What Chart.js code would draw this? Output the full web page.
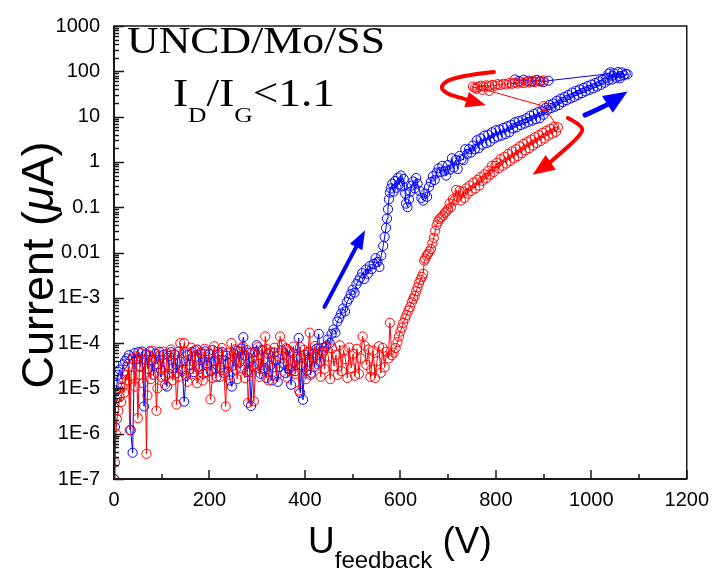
<!DOCTYPE html>
<html>
<head>
<meta charset="utf-8">
<script src="https://cdn.jsdelivr.net/npm/chart.js@4.4.1/dist/chart.umd.min.js"></script>
<style>
  html, body { margin: 0; padding: 0; background: #fff; }
  #wrap { width: 718px; height: 576px; }
</style>
</head>
<body>
<div id="wrap"><canvas id="c" width="718" height="576"></canvas></div>
<script>
// Axis ticks
const xTicks = [0, 200, 400, 600, 800, 1000, 1200];
const xMinorTicks = [100, 300, 500, 700, 900, 1100];
const yTicks = [1e-7, 1e-6, 1e-5, 1e-4, 1e-3, 0.01, 0.1, 1, 10, 100, 1000];
const yTickLabels = ['1E-7', '1E-6', '1E-5', '1E-4', '1E-3', '0.01', '0.1', '1', '10', '100', '1000'];

// Forward sweep (blue): feedback voltage (V) and emission current (uA)
const blueU = [
  0,2,4,6,9,12,15,19,23,27,
  31,35,39,43,47,51,55,59,63,67,
  71,75,79,83,87,91,95,99,103,107,
  111,115,119,123,127,131,135,139,143,147,
  151,155,159,163,167,171,175,179,183,187,
  191,195,199,203,207,211,215,219,223,227,
  231,235,239,243,247,251,255,259,263,267,
  271,275,279,283,287,291,295,299,303,307,
  311,315,319,323,327,331,335,339,343,347,
  351,355,359,363,367,371,375,379,383,387,
  390,393,396,400,404,408,412,416,420,424,
  429,432,436,440,
  444,448,452,456,460,464,468,472,476,480,
  484,488,492,496,500,504,508,512,516,520,
  524,528,532,536,540,544,548,552,556,560,
  564,567,570,572,574,576,578,580,583,586,
  589,592,595,598,601,604,607,610,612,615,
  618,621,624,627,630,633,636,640,644,648,
  652,656,660,664,668,672,676,680,684,688,
  692,696,700,704,708,712,716,720,724,728,
  732,736,740,744,748,752,756,760,764,768,
  772,776,780,784,788,792,796,800,804,808,
  812,816,820,824,828,832,836,840,844,848,
  852,856,860,864,868,872,876,880,884,888,
  892,896,900,904,908,912,916,920,924,928,
  932,936,940,944,948,952,956,960,964,968,
  972,976,980,984,988,992,996,1000,1004,1008,
  1012,1016,1020,1024,1028,1032,1036,1040,1044,1048,
  1052,1056,1060,1064,1068,1072,1076,1060,1044,1036,
  910,900,892,884,876,868,858,848,840
];
const blueI = [
  1e-7,1.4e-6,9e-6,1.2e-5,2.0e-5,2.6e-5,1.6e-5,3.4e-5,4.0e-5,4.6e-5,
  5.4e-5,1.2e-6,3.8e-7,6.0e-5,4.4e-5,6.3e-5,3.0e-5,6.5e-5,4.0e-6,5.6e-5,
  2.7e-5,6.6e-5,4.2e-5,2.0e-5,5.9e-5,3.4e-5,6.4e-5,2.5e-5,5.5e-5,1.9e-5,
  1.1e-5,5.2e-5,6.3e-5,2.8e-5,5.6e-5,2.2e-5,6.5e-5,3.9e-5,2.6e-5,5.1e-6,
  1.9e-5,5.5e-5,3.3e-5,6.4e-5,2.3e-5,5.0e-5,7.2e-5,2.7e-5,5.8e-5,2.1e-5,
  6.6e-5,3.2e-5,5.7e-5,2.4e-5,7.0e-5,4.0e-5,1.8e-5,5.6e-5,2.9e-5,6.3e-5,
  2.2e-5,5.3e-5,3.6e-5,1.5e-5,1.1e-5,5.9e-5,2.6e-5,6.8e-5,3.8e-5,7.6e-5,
  1.35e-4,5.3e-5,2.3e-5,6.1e-5,4.1e-6,3.1e-5,6.4e-5,9.0e-5,3.5e-5,2.1e-5,
  7.1e-5,2.8e-5,1.7e-5,5.8e-5,3.2e-5,1.5e-5,6.2e-5,4.1e-5,1.4e-5,3.0e-5,
  6.9e-5,3.5e-5,2.2e-5,7.3e-5,2.7e-5,1.2e-5,6.0e-5,2.4e-5,5.0e-5,1.3e-4,
  8.0e-6,3.2e-5,5.6e-6,5.5e-5,2.5e-5,6.5e-5,2.0e-5,5.9e-5,3.0e-5,7.5e-5,
  1.6e-4,3.8e-5,6.8e-5,8.0e-5,
  8.5e-5,1.2e-4,1.0e-4,1.6e-4,2.0e-4,1.7e-4,3.0e-4,3.6e-4,4.5e-4,5.8e-4,
  5.0e-4,8.0e-4,9.5e-4,1.2e-3,1.5e-3,1.3e-3,2.0e-3,2.4e-3,2.8e-3,3.5e-3,
  2.6e-3,4.2e-3,3.4e-3,5.0e-3,4.3e-3,5.6e-3,7.5e-3,6.2e-3,4.8e-3,8.5e-3,
  0.014,0.022,0.035,0.056,0.09,0.15,0.21,0.26,0.33,0.22,
  0.38,0.27,0.45,0.32,0.5,0.29,0.42,0.2,0.12,0.1,
  0.15,0.22,0.3,0.37,0.26,0.44,0.33,0.23,0.16,0.14,
  0.2,0.17,0.28,0.36,0.48,0.4,0.58,0.72,0.6,0.82,
  0.62,0.5,0.85,0.68,1.2,0.75,1.1,0.7,1.35,1.15,
  1.1,1.9,1.5,1.9,1.6,2.3,1.9,3.0,2.0,3.3,
  2.4,3.8,2.6,4.0,2.8,4.5,3.3,5.0,3.6,5.2,
  3.8,5.6,4.1,6.1,4.5,6.6,5.5,7.5,5.8,8.0,
  6.5,8.3,7.0,9.2,7.6,10.5,8.2,11.5,8.8,12.5,
  9.2,13.0,11.0,15.5,14.0,18.0,15.5,19.5,16.5,22.5,
  18,25,21,27,23,30,25,34,27,37,
  30,40,33,43,36,47,39,51,42,55,
  46,60,50,65,56,72,64,95,66,90,
  72,96,78,94,82,88,86,70,80,88,
  62,58,60,64,59,62,65,61,66
];

// Reverse sweep (red)
const redU = [
  900,894,888,882,876,870,864,858,852,846,
  840,834,828,822,816,810,804,798,792,786,
  780,774,768,762,756,752,760,772,786,900,
  930,926,922,918,914,910,906,902,898,894,
  890,886,882,878,874,870,866,862,858,854,
  850,846,842,838,834,830,826,822,818,814,
  810,806,802,799,796,792,788,784,780,776,
  772,768,765,761,757,753,749,745,741,738,
  734,731,727,724,720,717,713,710,706,703,
  700,696,693,690,686,682,679,676,673,670,
  667,664,661,658,655,652,650,648,645,642,
  639,636,633,630,627,624,620,617,613,610,
  606,603,600,597,594,590,586,582,578,575,
  571,567,563,559,555,551,547,543,539,537,
  533,529,525,521,517,513,509,505,501,497,
  493,489,485,481,477,473,469,465,461,457,
  453,449,445,441,437,433,429,425,421,417,
  413,410,406,402,398,394,390,388,384,380,
  376,372,368,364,360,356,352,348,344,340,
  336,332,328,324,320,317,313,309,305,301,
  297,293,289,285,281,278,274,270,266,262,
  258,254,250,246,242,238,234,230,226,222,
  218,214,210,206,202,198,194,190,186,182,
  178,174,170,166,162,158,154,150,147,143,
  139,135,131,127,123,119,115,111,107,103,
  99,95,91,89,85,81,77,73,70,68,
  65,61,57,53,50,47,44,40,36,33,
  30,27,24,21,18,15,12,9,6,4,
  2,0
];
const redI = [
  63,60,64,58,61,57,59,55,58,54,
  56,53,55,51,53,50,52,48,50,47,
  49,46,48,45,43,46,41,39,37,17,
  5.8,4.6,6.0,4.2,5.4,3.8,4.9,3.3,4.4,2.9,
  3.9,2.6,3.5,2.3,3.1,2.0,2.8,1.8,2.5,1.55,
  2.2,1.35,1.9,1.2,1.7,1.05,1.5,0.92,1.3,0.82,
  1.15,0.72,0.95,0.82,0.6,0.82,0.52,0.64,0.44,0.53,
  0.38,0.46,0.3,0.4,0.26,0.35,0.23,0.3,0.2,0.26,
  0.16,0.22,0.14,0.23,0.17,0.24,0.14,0.15,0.1,0.12,
  0.09,0.08,0.074,0.066,0.06,0.055,0.048,0.04,0.03,0.021,
  0.016,0.012,0.0105,0.0093,0.0085,0.0073,0.0066,0.0034,0.0029,0.0025,
  0.0021,0.0017,0.0014,0.0011,0.00095,0.0008,0.00062,0.00052,0.00042,0.00035,
  0.00028,0.00022,0.00018,0.00014,0.000105,7.8e-5,6.2e-5,5.4e-5,2.8e-4,4.6e-5,
  6.5e-5,2.9e-5,7.8e-5,2.2e-5,8.5e-5,4.0e-5,1.7e-5,6.8e-5,2.6e-5,1.8e-5,
  7.2e-5,3.3e-5,8.8e-5,1.4e-4,4.6e-5,2.1e-5,7.5e-5,1.9e-5,5.8e-5,2.8e-5,
  8.0e-5,1.7e-5,4.4e-5,6.9e-5,2.4e-5,9.0e-5,2.0e-5,5.5e-5,3.1e-5,7.6e-5,
  1.6e-5,5.0e-5,8.3e-5,2.7e-5,6.2e-5,1.8e-5,7.9e-5,3.5e-5,8.6e-5,4.8e-5,
  2.2e-5,1.7e-4,6.0e-5,1.6e-5,7.1e-5,3.0e-5,8.2e-5,9.0e-6,4.5e-5,2.1e-5,
  8.4e-5,2.5e-5,6.6e-5,1.7e-5,7.7e-5,3.6e-5,9.2e-5,1.4e-4,5.2e-5,1.9e-5,
  7.9e-5,2.9e-5,6.3e-5,1.5e-5,7.4e-5,1.4e-4,2.6e-5,6.9e-5,1.8e-5,8.1e-5,
  3.4e-5,5.2e-6,6.1e-5,2.3e-5,4.8e-6,7.0e-5,1.7e-5,8.4e-5,2.8e-5,6.5e-5,
  1.6e-5,7.3e-5,3.2e-5,1.0e-4,2.0e-5,6.0e-5,4.0e-6,2.5e-5,7.8e-5,1.8e-5,
  6.4e-5,2.7e-5,8.5e-5,1.7e-5,5.7e-6,5.9e-5,2.3e-5,7.5e-5,1.5e-5,6.2e-5,
  3.0e-5,1.3e-5,7.0e-5,2.1e-5,7.9e-5,2.6e-5,1.4e-5,6.4e-5,1.0e-4,2.4e-5,
  1.0e-4,1.8e-5,4.4e-6,5.6e-5,1.5e-5,7.2e-5,2.1e-5,5.8e-5,1.2e-5,6.5e-5,
  1.8e-5,5.2e-5,1.0e-5,3.2e-6,4.4e-5,6.8e-5,1.6e-5,5.4e-5,7.0e-6,3.6e-7,
  4.3e-5,1.3e-5,6.0e-5,2.0e-5,2.2e-6,5.1e-5,1.1e-5,4.6e-5,1.9e-5,1.2e-6,
  3.0e-5,1.5e-5,2.0e-5,8.0e-6,1.1e-5,5.0e-6,6.5e-6,3.2e-6,2.1e-6,1.0e-6,
  2.3e-7,1e-7
];

// Sweep-direction arrows, given as paths in data units (V, uA)
const blueArrows = [
  { width: 4, head: [19, 7], path: [[441, 6.3e-4], [526, 0.031]] },
  { width: 5, head: [24, 10], path: [[987, 10.8], [1028, 17], [1076, 36]] }
];
const redArrows = [
  { width: 4, head: [22, 9], path: [[951, 9.3], [982, 6.3], [980, 4.0], [910, 0.9], [877, 0.52]] },
  { width: 4, head: [20, 8], path: [[796, 97], [717, 79], [682, 48], [696, 32], [732, 25], [779, 17.8]] }
];

const SANS = 'Liberation Sans, Arial, sans-serif';
const SERIF = 'Liberation Serif, Times New Roman, serif';

function toPoints(us, is) {
  return us.map((u, k) => ({ x: u, y: is[k] }));
}

function drawRuns(ctx, runs, x0, baseline, targetWidth) {
  let total = 0;
  runs.forEach(r => { ctx.font = r.font; r.w = ctx.measureText(r.text).width; total += r.w; });
  const sx = targetWidth ? targetWidth / total : 1;
  ctx.save();
  ctx.translate(x0, baseline);
  ctx.scale(sx, 1);
  let x = 0;
  runs.forEach(r => { ctx.font = r.font; ctx.fillText(r.text, x, r.dy || 0); x += r.w; });
  ctx.restore();
  return total * sx;
}

function drawArrow(ctx, xs, ys, arrow, color) {
  const pts = arrow.path.map(p => [xs.getPixelForValue(p[0]), ys.getPixelForValue(p[1])]);
  const n = pts.length;
  const tip = pts[n - 1], prev = pts[n - 2];
  const dx = tip[0] - prev[0], dy = tip[1] - prev[1];
  const len = Math.hypot(dx, dy);
  const ux = dx / len, uy = dy / len;
  const headLen = arrow.head[0], headHalf = arrow.head[1];
  const end = [tip[0] - ux * headLen * 0.8, tip[1] - uy * headLen * 0.8];
  ctx.strokeStyle = color;
  ctx.fillStyle = color;
  ctx.lineWidth = arrow.width;
  ctx.lineCap = 'round';
  ctx.lineJoin = 'round';
  ctx.beginPath();
  ctx.moveTo(pts[0][0], pts[0][1]);
  if (n === 2) {
    ctx.lineTo(end[0], end[1]);
  } else {
    for (let k = 1; k < n - 1; k++) {
      const nx = k === n - 2 ? end : pts[k + 1];
      ctx.quadraticCurveTo(pts[k][0], pts[k][1], (pts[k][0] + nx[0]) / 2, (pts[k][1] + nx[1]) / 2);
    }
    ctx.lineTo(end[0], end[1]);
  }
  ctx.stroke();
  const bx = tip[0] - ux * headLen, by = tip[1] - uy * headLen;
  ctx.beginPath();
  ctx.moveTo(tip[0], tip[1]);
  ctx.lineTo(bx - uy * headHalf, by + ux * headHalf);
  ctx.lineTo(bx + uy * headHalf, by - ux * headHalf);
  ctx.closePath();
  ctx.fill();
}

const decorations = {
  id: 'decorations',
  afterDatasetsDraw(chart) {
    const { ctx, chartArea: a, scales: { x, y } } = chart;
    ctx.save();

    // frame
    ctx.strokeStyle = '#1a1a1a';
    ctx.lineWidth = 1.5;
    ctx.strokeRect(a.left, a.top, a.right - a.left, a.bottom - a.top);
    ctx.lineWidth = 2;
    ctx.beginPath();
    ctx.moveTo(a.left, a.top);
    ctx.lineTo(a.left, a.bottom);
    ctx.lineTo(a.right, a.bottom);
    ctx.stroke();

    // inward tick marks
    ctx.lineWidth = 1.5;
    ctx.beginPath();
    xTicks.forEach(v => { const p = Math.round(x.getPixelForValue(v)); ctx.moveTo(p, a.bottom); ctx.lineTo(p, a.bottom - 9); });
    xMinorTicks.forEach(v => { const p = Math.round(x.getPixelForValue(v)); ctx.moveTo(p, a.bottom); ctx.lineTo(p, a.bottom - 5); });
    yTicks.forEach((v, k) => {
      const p = Math.round(y.getPixelForValue(v)) + 0.5;
      ctx.moveTo(a.left, p); ctx.lineTo(a.left + 10, p);
      if (k < yTicks.length - 1) {
        for (let m = 2; m <= 9; m++) {
          const q = Math.round(y.getPixelForValue(v * m)) + 0.5;
          ctx.moveTo(a.left, q); ctx.lineTo(a.left + 5, q);
        }
      }
    });
    ctx.stroke();

    // sweep arrows
    blueArrows.forEach(ar => drawArrow(ctx, x, y, ar, '#0000ff'));
    redArrows.forEach(ar => drawArrow(ctx, x, y, ar, '#ff0000'));

    // sample label
    ctx.fillStyle = '#000';
    ctx.textBaseline = 'alphabetic';
    drawRuns(ctx, [{ text: 'UNCD/Mo/SS', font: '38px ' + SERIF }], 127, 53, 258);
    drawRuns(ctx, [
      { text: 'I', font: '39px ' + SERIF },
      { text: 'D', font: '22px ' + SERIF, dy: 16 },
      { text: '/', font: '39px ' + SERIF },
      { text: 'I', font: '39px ' + SERIF },
      { text: 'G', font: '22px ' + SERIF, dy: 16 },
      { text: '<1.1', font: '39px ' + SERIF }
    ], 173, 106, 162);

    // axis titles
    drawRuns(ctx, [
      { text: 'U', font: '37px ' + SANS },
      { text: 'feedback', font: '24px ' + SANS, dy: 15 },
      { text: ' (V)', font: '37px ' + SANS }
    ], 308, 553);

    ctx.save();
    ctx.translate(53, 265);
    ctx.rotate(-Math.PI / 2);
    const yRuns = [
      { text: 'Current (', font: '45px ' + SANS },
      { text: '\u03bc', font: 'italic 45px ' + SANS },
      { text: 'A)', font: '45px ' + SANS }
    ];
    let tw = 0;
    yRuns.forEach(r => { ctx.font = r.font; tw += ctx.measureText(r.text).width; });
    drawRuns(ctx, yRuns, -tw / 2, 0);
    ctx.restore();

    ctx.restore();
  }
};

Chart.defaults.font.family = SANS;
Chart.defaults.color = '#000';

const markerStyle = {
  showLine: true,
  borderWidth: 1,
  pointStyle: 'circle',
  pointRadius: 4.6,
  pointBorderWidth: 1,
  pointBackgroundColor: 'rgba(0,0,0,0)',
  tension: 0
};

new Chart(document.getElementById('c'), {
  type: 'scatter',
  data: {
    datasets: [
      Object.assign({ label: 'reverse', data: toPoints(redU, redI), borderColor: '#ff0000', pointBorderColor: '#ff0000' }, markerStyle),
      Object.assign({ label: 'forward', data: toPoints(blueU, blueI), borderColor: '#0000ff', pointBorderColor: '#0000ff' }, markerStyle)
    ]
  },
  options: {
    responsive: false,
    animation: false,
    devicePixelRatio: 1,
    layout: { padding: { top: 16, right: 25, left: 0, bottom: 0 } },
    plugins: { legend: { display: false }, tooltip: { enabled: false } },
    scales: {
      x: {
        type: 'linear',
        min: 0,
        max: 1200,
        afterBuildTicks: s => { s.ticks = xTicks.map(v => ({ value: v })); },
        afterFit: s => { s.height = 97; },
        grid: { display: false, drawTicks: false },
        border: { display: false },
        ticks: { padding: 9, autoSkip: false, maxRotation: 0, font: { size: 20 }, color: '#000', callback: v => String(v) }
      },
      y: {
        type: 'logarithmic',
        min: 1e-7,
        max: 1000,
        afterBuildTicks: s => { s.ticks = yTicks.map(v => ({ value: v })); },
        afterFit: s => { s.width = 114; },
        grid: { display: false, drawTicks: false },
        border: { display: false },
        ticks: {
          padding: 14,
          autoSkip: false,
          font: { size: 20 },
          color: '#000',
          callback: v => {
            const k = yTicks.findIndex(t => Math.abs(t - v) <= t * 1e-6);
            return k >= 0 ? yTickLabels[k] : '';
          }
        }
      }
    }
  },
  plugins: [decorations]
});
</script>
</body>
</html>
